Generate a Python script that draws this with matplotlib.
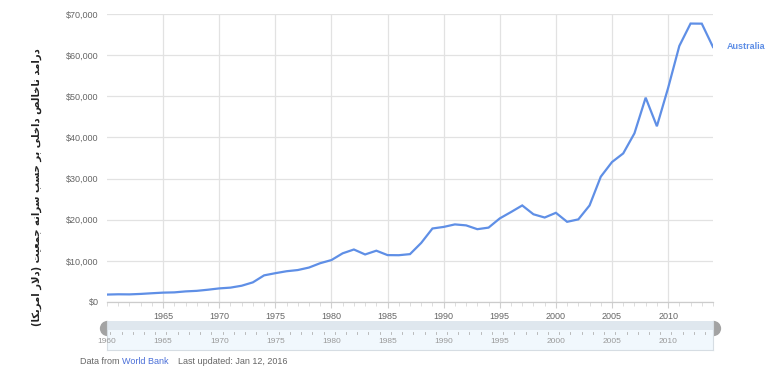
import matplotlib
matplotlib.use("Agg")
import matplotlib.pyplot as plt
from matplotlib.ticker import MultipleLocator, FuncFormatter

# Australia GDP per capita (current US$), World Bank
years = list(range(1960, 2015))
gdp_per_capita = [
    1807, 1874, 1851, 1964, 2128, 2277, 2340, 2577, 2710, 2986,
    3305, 3493, 3954, 4776, 6474, 7003, 7477, 7766, 8374, 9433,
    10194, 11834, 12760, 11555, 12469, 11398, 11372, 11636, 14366, 17867,
    18249, 18860, 18625, 17697, 18079, 20319, 21862, 23469, 21321, 20534,
    21679, 19490, 20082, 23465, 30456, 34017, 36118, 41000, 49664, 42715,
    52022, 62245, 67677, 67652, 61980,
]
series_name = "Australia"
y_label = "درامد ناخالص داخلی بر حسب سرانه جمعیت (دلار امریکا)"
label_years = list(range(1965, 2015, 5))
slider_years = list(range(1960, 2015, 5))

LINE = "#5f8fe6"
GRID = "#e2e2e2"
TEXT = "#666666"

# matplotlib has no Arabic shaping, so pick presentation forms by hand
# (isolated, final, initial, medial); None -> letter does not join forward
FORMS = {
    "ا": ("\uFE8D", "\uFE8E", None, None),
    "آ": ("\uFE81", "\uFE82", None, None),
    "د": ("\uFEA9", "\uFEAA", None, None),
    "ر": ("\uFEAD", "\uFEAE", None, None),
    "ب": ("\uFE8F", "\uFE90", "\uFE91", "\uFE92"),
    "ت": ("\uFE95", "\uFE96", "\uFE97", "\uFE98"),
    "ج": ("\uFE9D", "\uFE9E", "\uFE9F", "\uFEA0"),
    "ح": ("\uFEA1", "\uFEA2", "\uFEA3", "\uFEA4"),
    "خ": ("\uFEA5", "\uFEA6", "\uFEA7", "\uFEA8"),
    "س": ("\uFEB1", "\uFEB2", "\uFEB3", "\uFEB4"),
    "ص": ("\uFEB9", "\uFEBA", "\uFEBB", "\uFEBC"),
    "ع": ("\uFEC9", "\uFECA", "\uFECB", "\uFECC"),
    "ل": ("\uFEDD", "\uFEDE", "\uFEDF", "\uFEE0"),
    "م": ("\uFEE1", "\uFEE2", "\uFEE3", "\uFEE4"),
    "ن": ("\uFEE5", "\uFEE6", "\uFEE7", "\uFEE8"),
    "ه": ("\uFEE9", "\uFEEA", "\uFEEB", "\uFEEC"),
    "ی": ("\uFBFC", "\uFBFD", "\uFBFE", "\uFBFF"),
    "ک": ("\uFB8E", "\uFB8F", "\uFB90", "\uFB91"),
}


def shape_rtl(text):
    out = []
    i = 0
    n = len(text)
    while i < n:
        ch = text[i]
        if ch not in FORMS:
            out.append(ch)
            i += 1
            continue
        prev = text[i - 1] if i > 0 else ""
        joins_prev = prev in FORMS and FORMS[prev][2] is not None
        # lam-alef ligature
        if ch == "ل" and i + 1 < n and text[i + 1] == "ا":
            out.append("\uFEFC" if joins_prev else "\uFEFB")
            i += 2
            continue
        nxt = text[i + 1] if i + 1 < n else ""
        joins_next = FORMS[ch][2] is not None and nxt in FORMS
        iso, fin, ini, med = FORMS[ch]
        if joins_prev and joins_next:
            out.append(med)
        elif joins_prev:
            out.append(fin)
        elif joins_next:
            out.append(ini)
        else:
            out.append(iso)
        i += 1
    visual = "".join(reversed(out))
    return visual.translate(str.maketrans("()", ")("))


plt.rcParams["font.family"] = ["Liberation Sans", "DejaVu Sans"]

fig = plt.figure(figsize=(7.7, 3.82), dpi=100)
W, H = 770, 382


def px_axes(x0, y0, x1, y1):
    return fig.add_axes([x0 / W, 1 - y1 / H, (x1 - x0) / W, (y1 - y0) / H])


ax = px_axes(107, 14, 713, 302)
ax.plot(years, gdp_per_capita, color=LINE, lw=1.6, solid_joinstyle="miter")
ax.set_xlim(1960, 2014)
ax.set_ylim(0, 70000)

ax.set_xticks(label_years)
ax.xaxis.set_minor_locator(MultipleLocator(1))
ax.yaxis.set_major_locator(MultipleLocator(10000))
ax.yaxis.set_major_formatter(FuncFormatter(lambda v, _: f"${int(v):,}"))
ax.grid(True, color=GRID, lw=0.9)
ax.set_axisbelow(True)
ax.tick_params(axis="y", length=0, pad=6, labelsize=6.5, labelcolor=TEXT)
ax.tick_params(axis="x", which="major", length=4, color="#d0d0d0",
               pad=3, labelsize=6.5, labelcolor=TEXT)
ax.tick_params(axis="x", which="minor", length=3, color="#d8d8d8")
for side in ["top", "right", "left"]:
    ax.spines[side].set_visible(False)
ax.spines["bottom"].set_color("#cccccc")
ax.spines["bottom"].set_linewidth(0.9)

ax.text(years[-1] + 1.2, gdp_per_capita[-1], series_name,
        color=LINE, fontsize=6.5, fontweight="bold", va="center",
        ha="left", clip_on=False)

fig.text(37 / W, 1 - 187 / H, shape_rtl(y_label), rotation=90,
         ha="center", va="center", fontsize=7.2, fontweight="bold",
         color="#222222", family=["DejaVu Sans"])

# range slider below the chart
sl = px_axes(107, 321, 713, 350)
sl.set_xlim(1960, 2014)
sl.set_ylim(0, 1)
sl.set_facecolor("#f1f8fd")
sl.axhspan(0.7, 1.0, color="#dfe7ee", lw=0)
for s in sl.spines.values():
    s.set_color("#d6dde3")
    s.set_linewidth(0.8)
sl.spines["top"].set_visible(False)
sl.set_xticks([])
sl.set_yticks([])
for yr in years:
    sl.plot([yr + 0.3, yr + 0.3], [0.56, 0.62], color="#b0b0b0", lw=0.6)
for yr in slider_years:
    sl.text(yr, 0.28, str(yr), ha="center", va="center", fontsize=6,
            color="#9a9a9a")
sl.plot([1960], [0.75], marker="o", ms=11, fillstyle="left",
        markerfacecolor="#a3a3a3", markerfacecoloralt="none",
        markeredgecolor="none", clip_on=False)
sl.plot([2014], [0.75], marker="o", ms=11, fillstyle="right",
        markerfacecolor="#a3a3a3", markerfacecoloralt="none",
        markeredgecolor="none", clip_on=False)

# footer
fy = 1 - 362 / H
t1 = fig.text(80 / W, fy, "Data from ", fontsize=6.5, color=TEXT, va="center")
fig.canvas.draw()
r = fig.canvas.get_renderer()
bb = t1.get_window_extent(r)
t2 = fig.text(bb.x1 / W, fy, "World Bank", fontsize=6.5, color="#4a6fd8",
              va="center")
bb = t2.get_window_extent(r)
fig.text(bb.x1 / W + 10 / W, fy, "Last updated: Jan 12, 2016", fontsize=6.5,
         color=TEXT, va="center")

fig.savefig("out.png", dpi=100)
